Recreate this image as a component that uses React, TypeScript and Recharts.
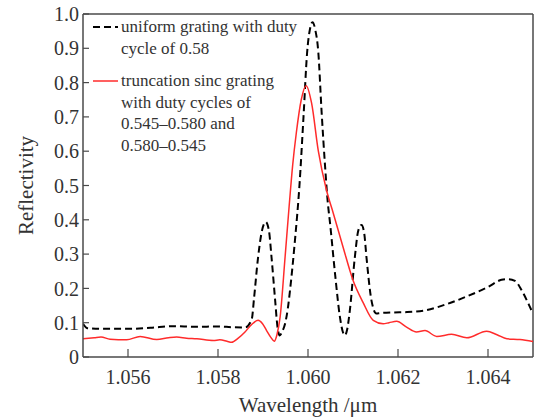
import React from 'react';
import {
  LineChart, Line, XAxis, YAxis, Legend, ReferenceLine, Label,
} from 'recharts';

// uniform grating, duty cycle 0.58 (black dashed)
const uniformWavelength = [
  1.0550, 1.0551, 1.0555, 1.0560, 1.0565, 1.0570, 1.0575, 1.0580, 1.0583, 1.0586,
  1.05875, 1.0588, 1.05889, 1.05898, 1.05906, 1.05913, 1.05919, 1.05927, 1.05932, 1.05937,
  1.05943, 1.05949, 1.05955, 1.0596, 1.05971, 1.05981, 1.0599, 1.05998, 1.06005, 1.0601,
  1.06016, 1.06023, 1.0603, 1.06038, 1.06044, 1.06049, 1.0606, 1.06071, 1.06077, 1.06082,
  1.06087, 1.06093, 1.06104, 1.06112, 1.06119, 1.06125, 1.0613, 1.06141, 1.06152, 1.0616,
  1.0619, 1.0622, 1.0626, 1.0631, 1.0635, 1.0640, 1.0643, 1.06445, 1.0646, 1.06475,
  1.0649, 1.0650,
];
const uniformReflectivity = [
  0.097, 0.084, 0.082, 0.082, 0.085, 0.090, 0.088, 0.089, 0.087, 0.086,
  0.110, 0.170, 0.290, 0.370, 0.394, 0.370, 0.290, 0.165, 0.090, 0.063,
  0.075, 0.097, 0.140, 0.194, 0.340, 0.500, 0.700, 0.887, 0.960, 0.976,
  0.955, 0.887, 0.720, 0.555, 0.450, 0.390, 0.244, 0.116, 0.075, 0.063,
  0.080, 0.136, 0.290, 0.370, 0.385, 0.360, 0.290, 0.165, 0.127, 0.128,
  0.130, 0.131, 0.136, 0.155, 0.175, 0.204, 0.225, 0.227, 0.222, 0.194,
  0.155, 0.126,
];

// truncation sinc grating (red solid)
const sincWavelength = [
  1.0550, 1.05525, 1.0554, 1.0556, 1.05597, 1.05627, 1.05664, 1.0569, 1.05708, 1.0573,
  1.05753, 1.0579, 1.05804, 1.0582, 1.0583, 1.05845, 1.0586, 1.05875, 1.05889, 1.05899,
  1.05908, 1.05917, 1.05925, 1.05931, 1.05938, 1.05949, 1.05958, 1.05966, 1.05974, 1.05985,
  1.05996, 1.06008, 1.06023, 1.06041, 1.06056, 1.06078, 1.061, 1.06122, 1.06145, 1.06167,
  1.0618, 1.06197, 1.06219, 1.06241, 1.0626, 1.06286, 1.06319, 1.06353, 1.06397, 1.0642,
  1.06442, 1.06471, 1.065,
];
const sincReflectivity = [
  0.053, 0.056, 0.058, 0.052, 0.050, 0.060, 0.051, 0.056, 0.058, 0.055,
  0.053, 0.048, 0.050, 0.046, 0.043, 0.055, 0.073, 0.095, 0.107, 0.097,
  0.077, 0.058, 0.046, 0.065, 0.116, 0.290, 0.438, 0.560, 0.653, 0.750,
  0.791, 0.740, 0.600, 0.487, 0.420, 0.320, 0.224, 0.160, 0.107, 0.097,
  0.100, 0.104, 0.087, 0.073, 0.077, 0.060, 0.066, 0.056, 0.075, 0.065,
  0.053, 0.051, 0.045,
];

const xTicks = [1.056, 1.058, 1.060, 1.062, 1.064];
const yTicks = [0, 0.1, 0.2, 0.3, 0.4, 0.5, 0.6, 0.7, 0.8, 0.9, 1.0];

const uniformLabel = ['uniform grating with duty', 'cycle of 0.58'];
const sincLabel = ['truncation sinc grating', 'with duty cycles of', '0.545\u20130.580 and', '0.580\u20130.545'];

const uniformData = uniformWavelength.map((x, i) => ({ x, y: uniformReflectivity[i] }));
const sincData = sincWavelength.map((x, i) => ({ x, y: sincReflectivity[i] }));

const FONT = "'Liberation Serif', 'DejaVu Serif', serif";
const AXIS = '#4a4a4a';
const RED = '#ff2b2b';

function LegendBox() {
  const row = (lines: string[], sample: React.ReactNode) => (
    <div style={{ display: 'flex', alignItems: 'flex-start', marginBottom: 11 }}>
      <svg width={30} height={21} style={{ flex: 'none' }}>{sample}</svg>
      <div>
        {lines.map(l => <div key={l} style={{ height: 21.5, lineHeight: '21px' }}>{l}</div>)}
      </div>
    </div>
  );
  return (
    <div style={{ fontFamily: FONT, fontSize: 17, color: '#333' }}>
      {row(uniformLabel, <line x1={2} x2={27} y1={11} y2={11} stroke="#000" strokeWidth={2} strokeDasharray="7 4" />)}
      {row(sincLabel, <line x1={2} x2={27} y1={11} y2={11} stroke={RED} strokeWidth={1.5} />)}
    </div>
  );
}

export default function App() {
  return (
    <div style={{ position: 'absolute', left: 0, top: 0, width: 535, height: 419, background: '#fff', fontFamily: FONT }}>
      <LineChart width={535} height={419} margin={{ top: 14, right: 2, bottom: 0, left: 0 }} style={{ fontFamily: FONT }}>
        <XAxis
          type="number" dataKey="x" domain={[1.055, 1.065]} ticks={xTicks}
          allowDataOverflow height={62}
          tickFormatter={(v: number) => v.toFixed(3)}
          tick={{ fontSize: 20, fontFamily: FONT, fill: '#333' }}
          tickSize={-8} tickMargin={21}
          tickLine={{ stroke: AXIS, strokeWidth: 1.2 }}
          axisLine={{ stroke: AXIS, strokeWidth: 1.5 }}
        >
          <Label value="Wavelength /μm" position="center" dy={17} style={{ fontSize: 21, fontFamily: FONT, fill: '#333' }} />
        </XAxis>
        <YAxis
          type="number" domain={[0, 1]} ticks={yTicks} allowDataOverflow width={83}
          tickFormatter={(v: number) => (v === 0 ? '0' : v.toFixed(1))}
          tick={{ fontSize: 20, fontFamily: FONT, fill: '#333' }}
          tickSize={-6} tickMargin={10}
          tickLine={{ stroke: AXIS, strokeWidth: 1.2 }}
          axisLine={{ stroke: AXIS, strokeWidth: 1.5 }}
        >
          <Label value="Reflectivity" angle={-90} position="center" dx={-16} style={{ fontSize: 21, fontFamily: FONT, fill: '#333', textAnchor: 'middle' }} />
        </YAxis>
        <ReferenceLine y={1} stroke={AXIS} strokeWidth={1.5} />
        <ReferenceLine x={1.065} stroke={AXIS} strokeWidth={1.5} />
        <Legend
          layout="horizontal" verticalAlign="middle" align="center"
          wrapperStyle={{ left: 91, top: 16, width: 260 }}
          content={() => <LegendBox />}
        />
        <Line
          data={uniformData} dataKey="y" type="monotone" stroke="#000" strokeWidth={2}
          strokeDasharray="7 4" dot={false} isAnimationActive={false}
        />
        <Line
          data={sincData} dataKey="y" type="monotone" stroke={RED} strokeWidth={1.5}
          dot={false} isAnimationActive={false}
        />
      </LineChart>
    </div>
  );
}
